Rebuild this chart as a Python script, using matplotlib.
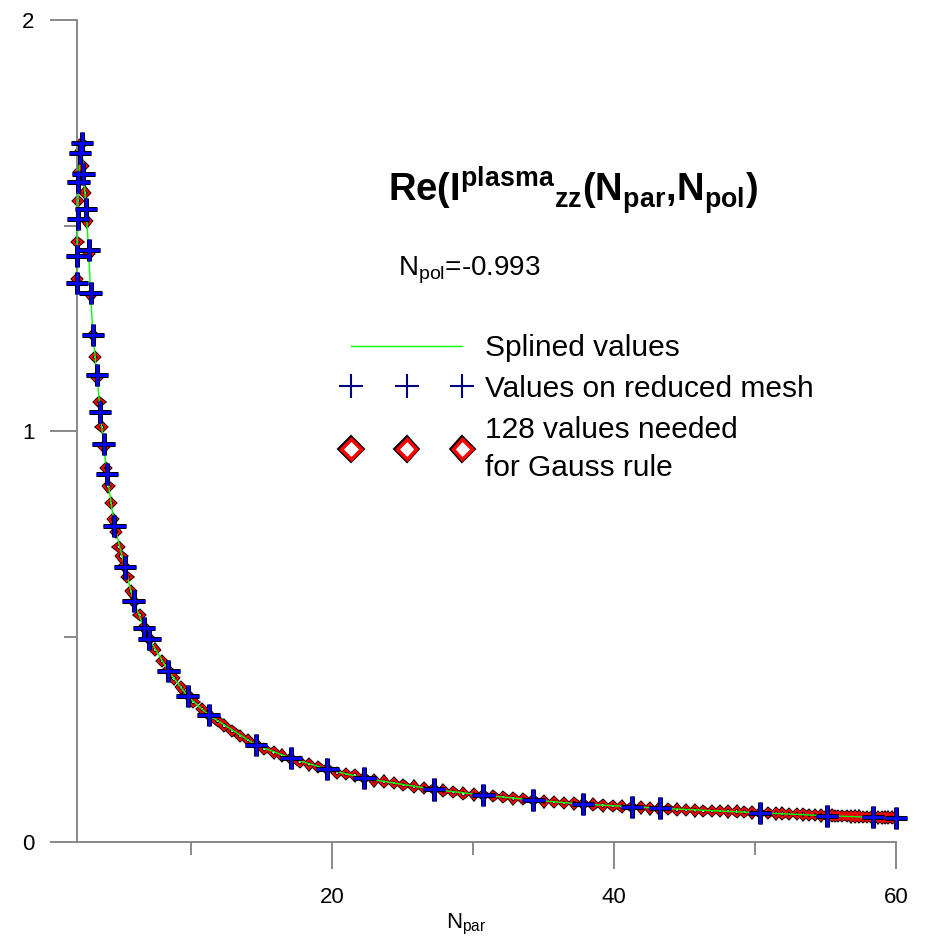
import matplotlib
matplotlib.use("Agg")
import matplotlib.pyplot as plt
import matplotlib.patheffects as pe
from matplotlib.lines import Line2D

plt.rcParams['font.family'] = ['Liberation Sans', 'DejaVu Sans']
plt.rcParams['mathtext.fontset'] = 'custom'
plt.rcParams['mathtext.rm'] = 'Liberation Sans'
plt.rcParams['mathtext.it'] = 'Liberation Sans:italic'
plt.rcParams['mathtext.bf'] = 'Liberation Sans:bold'

# values on reduced mesh (crosses)
mesh_x = [1.90, 1.91, 1.95, 2.00, 2.13, 2.24, 2.36, 2.55, 2.72, 2.86, 3.03, 3.31,
          3.55, 3.78, 4.02, 4.56, 5.30, 5.91, 6.67, 7.04, 8.39, 9.74, 11.23,
          14.60, 17.07, 19.67, 22.29, 27.20, 30.73, 34.28, 37.82, 41.25, 43.26,
          50.35, 55.09, 58.39, 60.00]
mesh_y = [1.36, 1.425, 1.515, 1.605, 1.676, 1.700, 1.625, 1.540, 1.440, 1.336,
          1.234, 1.136, 1.047, 0.968, 0.895, 0.769, 0.668, 0.587, 0.520, 0.493,
          0.416, 0.355, 0.309, 0.236, 0.204, 0.177, 0.155, 0.128, 0.114, 0.102,
          0.092, 0.086, 0.082, 0.071, 0.064, 0.060, 0.059]

# 128 values needed for Gauss rule (diamonds)
gauss_x = [1.90, 1.92, 1.97, 2.04, 2.12, 2.22, 2.33, 2.46, 2.60, 2.74, 2.88, 3.03,
           3.18, 3.33, 3.49, 3.64, 3.80, 3.97, 4.13, 4.30, 4.47, 4.65, 4.85, 5.05,
           5.25, 5.48,
           5.74, 5.95, 6.34, 6.67, 7.04, 7.45, 7.92, 8.35, 8.75, 9.27, 9.74, 10.16,
           10.76, 11.25, 11.87, 12.36, 12.93, 13.48, 14.02, 14.60, 15.20, 15.84,
           16.43, 17.07, 17.70, 18.37, 19.03, 19.67, 20.33, 20.97, 21.60, 22.29,
           22.98, 23.69, 24.40,
           25.06, 25.82, 26.52, 27.20, 27.89, 28.60, 29.31, 30.07, 30.73, 31.44,
           32.15, 32.86, 33.57, 34.28, 35.04, 35.74, 36.45, 37.19, 37.82, 38.53,
           39.19, 39.90, 40.54, 41.25, 41.91, 42.55, 43.20, 43.85, 44.45, 45.10,
           45.74, 46.33, 46.93, 47.52, 48.10,
           48.70, 49.24, 49.77, 50.35, 50.94, 51.47, 51.94, 52.41, 52.96, 53.43,
           53.83, 54.26, 54.68, 55.09, 55.44, 55.67, 55.91, 56.19, 56.50, 56.81,
           57.09, 57.38, 57.68, 57.95, 58.20, 58.45, 58.74, 58.98, 59.22, 59.45,
           59.69, 59.93]
gauss_y = [1.37, 1.46, 1.56, 1.63, 1.68, 1.70, 1.645, 1.58, 1.51, 1.43, 1.33, 1.234,
           1.18, 1.13, 1.07, 1.01, 0.962, 0.91, 0.865, 0.825, 0.785, 0.755, 0.718,
           0.695, 0.672, 0.645,
           0.61, 0.585, 0.552, 0.522, 0.495, 0.468, 0.440, 0.418, 0.398, 0.376,
           0.358, 0.341, 0.324, 0.310, 0.295, 0.283, 0.270, 0.258, 0.248, 0.238,
           0.226, 0.218, 0.210, 0.203, 0.195, 0.189, 0.183, 0.177, 0.168, 0.165,
           0.162, 0.156, 0.150, 0.147, 0.143,
           0.139, 0.135, 0.132, 0.129, 0.125, 0.121, 0.118, 0.116, 0.114, 0.112,
           0.110, 0.106, 0.104, 0.102, 0.099, 0.097, 0.095, 0.094, 0.092, 0.091,
           0.089, 0.087, 0.086, 0.085, 0.084, 0.082, 0.081, 0.080, 0.079, 0.078,
           0.077, 0.076, 0.0755, 0.075, 0.0745,
           0.074, 0.073, 0.072, 0.071, 0.070, 0.0695, 0.069, 0.068, 0.0675, 0.067,
           0.066, 0.0655, 0.065, 0.0645, 0.064, 0.0638, 0.0635, 0.063, 0.0627,
           0.0623, 0.062, 0.0617, 0.0613, 0.061, 0.0607, 0.0604, 0.060, 0.0598,
           0.0596, 0.0594, 0.0592, 0.059]

x_major = [20, 40, 60]
x_minor = [10, 30, 50]
y_major = [0, 1, 2]
y_minor = [0.5, 1.5]

fig = plt.figure(figsize=(9.27, 9.44), dpi=100)
ax = fig.add_axes([77 / 927, 1 - 842 / 944, 819 / 927, 822 / 944])

# diamonds first, green spline through them, crosses on top
ax.plot(gauss_x, gauss_y, ls='none', marker='D', ms=4.3, mfc='none', mec='red', mew=1.5,
        path_effects=[pe.Stroke(linewidth=2.8, foreground='black'), pe.Normal()],
        zorder=2, clip_on=False)
ax.plot(mesh_x, mesh_y, color='#00ff00', lw=1.0, zorder=3)
ax.plot(mesh_x, mesh_y, ls='none', marker='+', ms=16, mew=2.0, color='#0000ff',
        path_effects=[pe.Stroke(linewidth=3.6, foreground='black'), pe.Normal()],
        zorder=4, clip_on=False)

ax.set_xlim(1.9, 60)
ax.set_ylim(0, 2)
ax.set_xticks(x_major)
ax.set_xticks(x_minor, minor=True)
ax.set_yticks(y_major)
ax.set_yticks(y_minor, minor=True)
ax.set_yticklabels([str(v) for v in y_major])

for s in ['top', 'right']:
    ax.spines[s].set_visible(False)
for s in ['left', 'bottom']:
    ax.spines[s].set_color('#808080')
    ax.spines[s].set_linewidth(1.3)
ax.tick_params(which='major', direction='out', length=19.5, width=1.3, color='#808080',
               labelsize=16, labelcolor='black')
ax.tick_params(axis='x', which='major', pad=13)
ax.tick_params(axis='y', which='major', pad=11)
ax.tick_params(which='minor', direction='out', length=9.5, width=1.3, color='#808080')

fig.text(466 / 927, 1 - 924 / 944, r'N$_{\mathregular{par}}$', fontsize=16,
         ha='center', va='center')

fig.text(388 / 927, 1 - 190 / 944,
         r'Re(I$^{\mathregular{plasma}}$$_{\mathregular{zz}}$(N$_{\mathregular{par}}$,N$_{\mathregular{pol}}$)',
         fontsize=27.5, fontweight='bold', ha='left', va='center')
fig.text(398 / 927, 1 - 270 / 944, r'N$_{\mathregular{pol}}$=-0.993', fontsize=20,
         ha='left', va='center')

h_line = Line2D([], [], color='#00ff00', lw=1.0)
h_cross = Line2D([], [], ls='none', marker='+', ms=17, mew=1.5, color='#000080')
h_diam = Line2D([], [], ls='none', marker='D', ms=10, mfc='white', mec='red', mew=2.5,
                path_effects=[pe.Stroke(linewidth=4.5, foreground='black'), pe.Normal()])
leg = ax.legend([h_line, h_cross, h_diam],
                ['Splined values', 'Values on reduced mesh', '128 values needed\nfor Gauss rule'],
                loc='upper left', bbox_to_anchor=(342 / 927, 1 - 334 / 944),
                bbox_transform=fig.transFigure, frameon=False, fontsize=21.5, numpoints=3,
                handlelength=4.33, handletextpad=0.45, labelspacing=0.43, borderpad=0,
                borderaxespad=0)
for t in leg.get_texts():
    t.set_linespacing(1.45)

fig.savefig('out.png', dpi=100)
